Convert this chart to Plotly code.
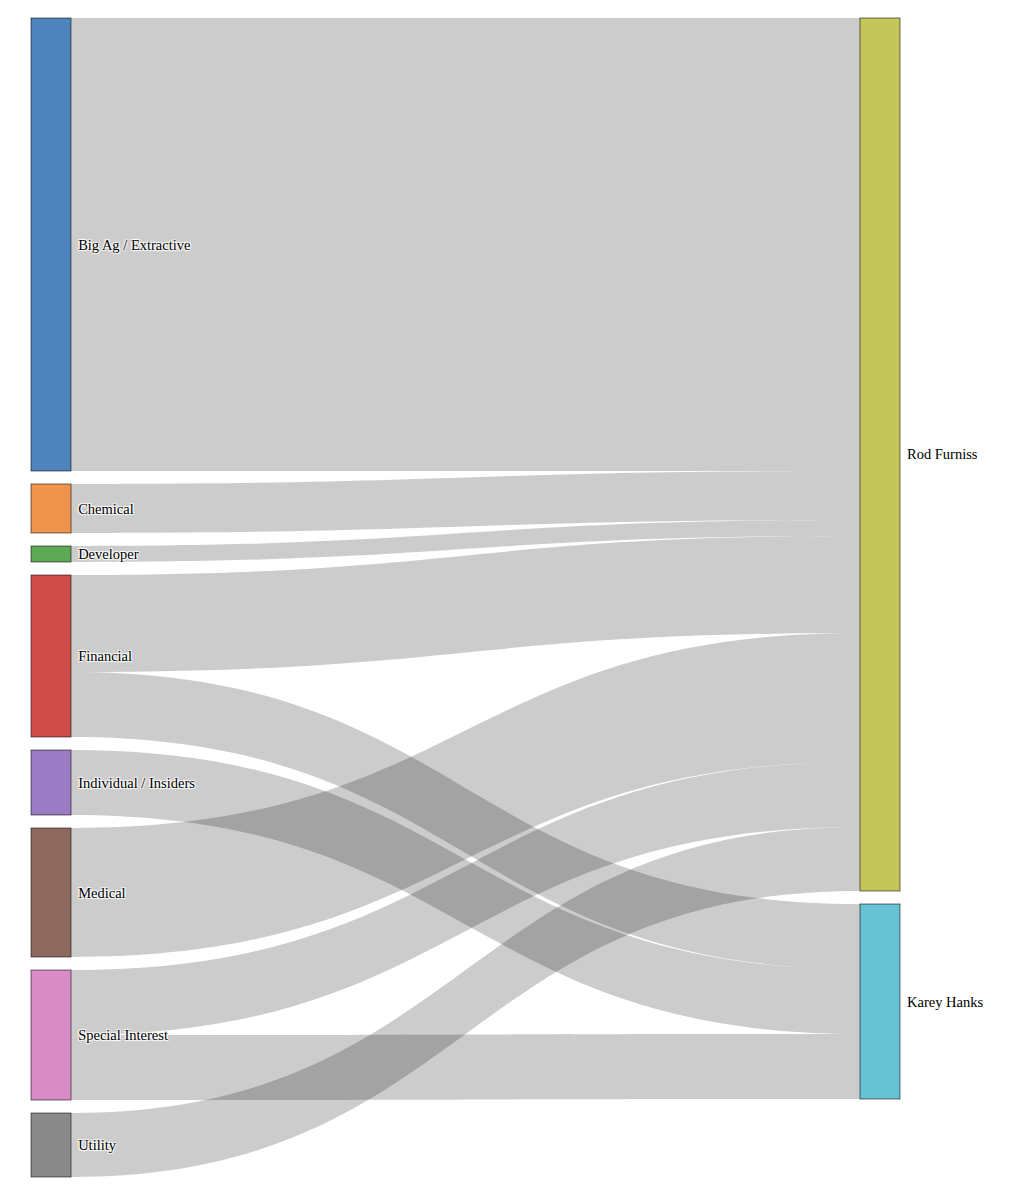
# sankey: contributions by sector to candidates

import plotly.graph_objects as go

sources = ["Big Ag / Extractive", "Chemical", "Developer", "Financial",
           "Individual / Insiders", "Medical", "Special Interest", "Utility"]
targets = ["Rod Furniss", "Karey Hanks"]

node_colors = ["#4e84bc", "#f0944d", "#5ea955", "#cd4c47", "#9a7bc4",
               "#8e685e", "#d98bc6", "#8a8a8a", "#c4c65a", "#67c2d4"]

# link list: (source, target, value)
link_src = ["Big Ag / Extractive", "Chemical", "Developer", "Financial", "Financial",
            "Individual / Insiders", "Medical", "Special Interest", "Special Interest", "Utility"]
link_tgt = ["Rod Furniss", "Rod Furniss", "Rod Furniss", "Rod Furniss", "Karey Hanks",
            "Karey Hanks", "Rod Furniss", "Rod Furniss", "Karey Hanks", "Rod Furniss"]
link_val = [453, 49, 16, 97, 65, 65, 129, 65, 65, 64]

W, H = 1022, 1192
M = dict(l=23, r=130, t=10, b=23)
PAD = 13
THICK = 40
FONT = dict(family="Liberation Serif", size=14.5, color="black")
plot_h = H - M["t"] - M["b"]
plot_w = W - M["l"] - M["r"]

labels = sources + targets
idx = {name: i for i, name in enumerate(labels)}

# node sizes from the links, then stack each column top-down in the given order
size = {}
for s in sources:
    size[s] = sum(v for ss, v in zip(link_src, link_val) if ss == s)
for t in targets:
    size[t] = sum(v for tt, v in zip(link_tgt, link_val) if tt == t)

ky = min((plot_h - (len(col) - 1) * PAD) / sum(size[n] for n in col)
         for col in (sources, targets))

node_y = {}
for col in (sources, targets):
    top = 0
    for n in col:
        h = size[n] * ky
        node_y[n] = (top + h / 2) / plot_h
        top += h + PAD

# x is the node centre
x_left = (THICK / 2) / plot_w
node_x = [x_left] * len(sources) + [1 - x_left] * len(targets)

fig = go.Figure(go.Sankey(
    arrangement="fixed",
    textfont=FONT,
    node=dict(
        label=["\u00a0" + s for s in sources] + [""] * len(targets),
        color=node_colors,
        pad=PAD,
        thickness=THICK,
        line=dict(color="rgba(0,0,0,0.55)", width=1),
        x=node_x,
        y=[node_y[n] for n in labels],
    ),
    link=dict(
        source=[idx[s] for s in link_src],
        target=[idx[t] for t in link_tgt],
        value=link_val,
        color="rgba(0,0,0,0.2)",
    ),
))

# right-hand labels sit to the right of their nodes
for t in targets:
    fig.add_annotation(
        text=t, xref="paper", yref="paper",
        x=1 + 5 / plot_w, y=1 - node_y[t],
        xanchor="left", yanchor="middle", showarrow=False,
        font=FONT,
    )

fig.update_layout(
    width=W,
    height=H,
    margin=M,
    paper_bgcolor="white",
    font=FONT,
)

fig.write_html("out.html")
